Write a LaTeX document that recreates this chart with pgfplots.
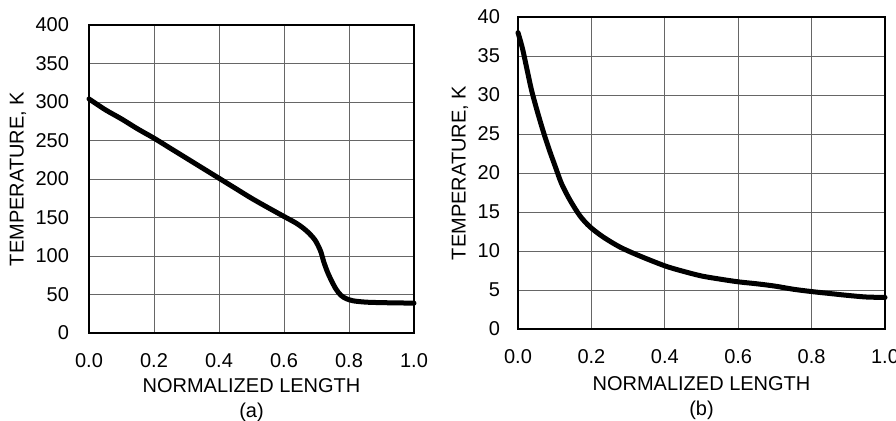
\documentclass[border=0pt]{standalone}
\usepackage{pgfplots}
\pgfplotsset{compat=1.18}
\usepackage{fontspec}
\setmainfont{Liberation Sans}

\pgfplotsset{
  panel/.style={
    scale only axis,
    xmin=0, xmax=1,
    ymin=0,
    xtick={0,0.2,...,1.0},
    /pgf/number format/assume math mode=true,
    grid=major,
    major grid style={gray!80!black, line width=0.5pt},
    axis line style={line width=1pt},
    xtick pos=bottom, ytick pos=left,
    tick align=inside,
    major tick length=0pt,
    ticklabel style={font=\fontsize{10}{12}\selectfont},
    xticklabel style={/pgf/number format/fixed, /pgf/number format/fixed zerofill,
      /pgf/number format/precision=1, anchor=center, yshift=-14pt},
    yticklabel style={anchor=east},
    every axis x label/.style={at={(axis description cs:0.5,0)}, anchor=north,
      align=center, font=\fontsize{10}{12.5}\selectfont},
    every axis y label/.style={at={(axis description cs:0,0.5)}, rotate=90, anchor=center,
      font=\fontsize{10}{12}\selectfont},
    ylabel={TEMPERATURE, K},
    clip=false,
  },
  curve/.style={black, line width=2.5pt, line join=round, line cap=round, smooth, tension=0.5},
}

\begin{document}
\begin{tikzpicture}[x=1pt,y=1pt]
\useasboundingbox (0,0) rectangle (448,210);

\begin{axis}[panel, at={(44.5pt,43.5pt)}, width=162.5pt, height=154pt,
  ymax=400, ytick={0,50,...,400},
  yticklabel style={xshift=-6.5pt},
  xlabel={NORMALIZED LENGTH\\(a)},
  xlabel style={yshift=-19pt},
  ylabel style={yshift=35.5pt}]
\addplot[curve] coordinates {
  (0.000,304) (0.050,290) (0.100,278) (0.150,265)
  (0.200,253) (0.250,240) (0.300,227) (0.350,214) (0.400,201)
  (0.450,188) (0.500,175) (0.550,163) (0.598,151.8) (0.640,142)
  (0.670,132.4) (0.695,121) (0.712,107) (0.722,93) (0.733,80)
  (0.746,68) (0.760,57) (0.775,49) (0.792,44.5) (0.813,41.8) (0.845,40.3)
  (0.875,39.7) (0.930,39.2) (1.000,38.8)
};
\end{axis}

\begin{axis}[panel, at={(259pt,45.5pt)}, width=183.5pt, height=156pt,
  ymax=40, ytick={0,5,...,40},
  yticklabel style={xshift=-5.5pt},
  xlabel={NORMALIZED LENGTH\\(b)},
  xlabel style={yshift=-20pt},
  ylabel style={yshift=29pt}]
\addplot[curve] coordinates {
  (0.000,38.0) (0.012,36.0) (0.024,33.4) (0.037,30.6) (0.052,28.0)
  (0.069,25.3) (0.085,23.0) (0.101,20.9) (0.119,18.6) (0.142,16.5)
  (0.169,14.5) (0.196,13.1) (0.232,11.8) (0.278,10.5) (0.330,9.4)
  (0.400,8.1) (0.450,7.4) (0.500,6.8) (0.550,6.4) (0.600,6.05)
  (0.650,5.8) (0.700,5.5) (0.750,5.1) (0.800,4.8) (0.850,4.55)
  (0.900,4.3) (0.950,4.1) (1.000,4.05)
};
\end{axis}
\end{tikzpicture}
\end{document}
